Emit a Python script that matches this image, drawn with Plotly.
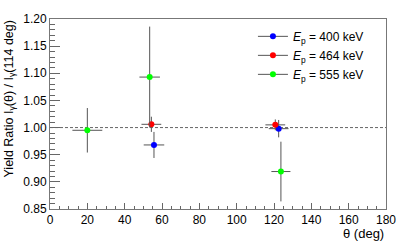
import plotly.graph_objects as go

# ---- data ----
theta_400 = [55.7, 122.5]
ratio_400 = [0.968, 0.998]
err_ratio_400 = [0.024, 0.016]
err_theta_400 = [5.5, 5.3]

theta_464 = [54.3, 120.7]
ratio_464 = [1.006, 1.005]
err_ratio_464 = [0.014, 0.010]
err_theta_464 = [5.3, 5.3]

theta_555 = [20.0, 53.4, 123.7]
ratio_555 = [0.995, 1.093, 0.919]
err_ratio_555 = [0.041, 0.093, 0.055]
err_theta_555 = [8.0, 5.5, 5.1]

ref_x = [0, 180]
ref_y = [1.0, 1.0]

series = [
    ("<i>E</i><sub>p</sub> = 400 keV", theta_400, ratio_400, err_theta_400, err_ratio_400, "#0000ff"),
    ("<i>E</i><sub>p</sub> = 464 keV", theta_464, ratio_464, err_theta_464, err_ratio_464, "#ff0000"),
    ("<i>E</i><sub>p</sub> = 555 keV", theta_555, ratio_555, err_theta_555, err_ratio_555, "#00ff00"),
]

FONT = "Liberation Sans, Arial, sans-serif"
ERRC = "#555555"

fig = go.Figure()
fig.add_trace(go.Scatter(x=ref_x, y=ref_y, mode="lines",
                         line=dict(color="#666666", width=1, dash="3px,2px"),
                         showlegend=False, hoverinfo="skip"))

for name, x, y, ex, ey, col in series:
    fig.add_trace(go.Scatter(
        x=x, y=y, mode="markers", showlegend=False,
        marker=dict(color=col, size=6, line=dict(width=0)),
        error_x=dict(type="data", array=ex, color=ERRC, thickness=1, width=0),
        error_y=dict(type="data", array=ey, color=ERRC, thickness=1, width=0),
    ))

for name, x, y, ex, ey, col in series:
    fig.add_trace(go.Scatter(
        x=[None], y=[None], mode="lines+markers", name=name,
        marker=dict(color=col, size=6),
        line=dict(color=ERRC, width=1),
    ))

fig.update_layout(
    width=415, height=247,
    margin=dict(l=50, r=29, t=13, b=38),
    paper_bgcolor="white", plot_bgcolor="white",
    font=dict(family=FONT, size=12, color="black"),
    legend=dict(x=0.604, y=0.985, xanchor="left", yanchor="top",
                bgcolor="rgba(0,0,0,0)", font=dict(size=12),
                itemwidth=30, tracegroupgap=0),
    xaxis=dict(range=[0, 180], dtick=20, tick0=0, showgrid=False, zeroline=False,
               showline=True, linecolor="#777777", linewidth=1, mirror=True,
               ticks="inside", ticklen=6, tickcolor="#666666",
               minor=dict(ticks="inside", dtick=5, ticklen=3, tickcolor="#666666"),
               tickfont=dict(size=12)),
    yaxis=dict(range=[0.85, 1.20], dtick=0.05, tick0=0.85, tickformat=".2f",
               showgrid=False, zeroline=False,
               showline=True, linecolor="#777777", linewidth=1, mirror=True,
               ticks="inside", ticklen=10, tickcolor="#666666",
               minor=dict(ticks="inside", dtick=0.01, ticklen=5, tickcolor="#666666"),
               tickfont=dict(size=12)),
    annotations=[
        dict(text="Yield Ratio I<sub>γ</sub>(θ) / I<sub>γ</sub>(114 deg)",
             xref="paper", yref="paper", x=0, y=1, xshift=-41,
             xanchor="center", yanchor="top", textangle=-90, showarrow=False,
             font=dict(size=12.5)),
        dict(text="θ (deg)", xref="paper", yref="paper", x=1, y=0, yshift=-24,
             xanchor="right", yanchor="middle", showarrow=False,
             font=dict(size=13)),
    ],
)

fig.write_html("out.html", config={"displayModeBar": False},
               post_script="document.body.style.margin='0';")
